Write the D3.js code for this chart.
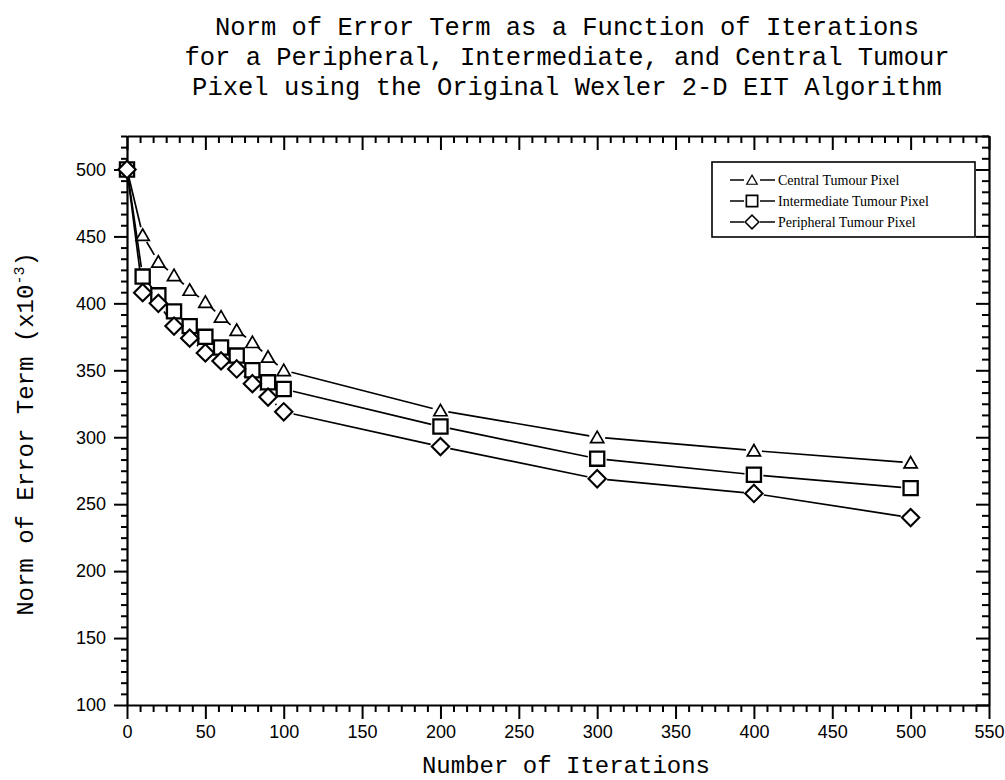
<!DOCTYPE html>
<html>
<head>
<meta charset="utf-8">
<script src="https://cdn.jsdelivr.net/npm/d3@7/dist/d3.min.js"></script>
<style>
  html, body { margin: 0; padding: 0; background: #fff; }
  svg { display: block; }
</style>
</head>
<body>
<svg id="chart" width="1005" height="780"></svg>
<script>
// ---- data ----
const iterations   = [0, 10, 20, 30, 40, 50, 60, 70, 80, 90, 100, 200, 300, 400, 500];
const central      = [500, 451, 431, 421, 410, 401, 390, 380, 371, 360, 350, 320, 300, 290, 281];
const intermediate = [500, 420, 406, 394, 383, 375, 367, 361, 350, 341, 336, 308, 284, 272, 262];
const peripheral   = [500, 408, 400, 383, 374, 363, 357, 351, 340, 330, 319, 293, 269, 258, 240];
const seriesNames  = ["Central Tumour Pixel", "Intermediate Tumour Pixel", "Peripheral Tumour Pixel"];
const xTicks = [0, 50, 100, 150, 200, 250, 300, 350, 400, 450, 500, 550];
const yTicks = [100, 150, 200, 250, 300, 350, 400, 450, 500];
const titleLines = [
  "Norm of Error Term as a Function of Iterations",
  "for a Peripheral, Intermediate, and Central Tumour",
  "Pixel using the Original Wexler 2-D EIT Algorithm"
];
const xLabel = "Number of Iterations";
const yLabel = "Norm of Error Term (x10";
const yLabelSup = "-3";

// ---- layout ----
const L = 127, R = 989, T = 136, B = 705;
const svg = d3.select("#chart");
const x = d3.scaleLinear().domain([0, 550]).range([L, R]);
const y = d3.scaleLinear().domain([100, 525]).range([B, T]);

const minor = (ticks, step, lo, hi) => {
  const out = [];
  for (let v = lo; v <= hi + 1e-9; v += step / 6) {
    if (!ticks.some(t => Math.abs(t - v) < 1e-6)) out.push(v);
  }
  return out;
};
const xMinor = minor(xTicks, 50, 0, 550);
const yMinor = minor(yTicks, 50, 100, 525);

const axisFont = "'Liberation Sans', Arial, sans-serif";
const monoFont = "'Liberation Mono', 'Courier New', monospace";

function styleAxis(g) {
  g.selectAll("path.domain").attr("stroke", "#000").attr("stroke-width", 2.2);
  g.selectAll(".tick line").attr("stroke", "#000").attr("stroke-width", 2);
}

// bottom
svg.append("g").attr("transform", `translate(0,${B})`)
  .call(d3.axisBottom(x).tickValues(xTicks).tickSizeInner(14).tickSizeOuter(0).tickPadding(6).tickFormat(d3.format("d")))
  .call(styleAxis)
  .call(g => g.selectAll("text").attr("font-family", axisFont).attr("font-size", 18).attr("fill", "#000"));
svg.append("g").attr("transform", `translate(0,${B})`)
  .call(d3.axisBottom(x).tickValues(xMinor).tickSize(7).tickFormat(""))
  .call(styleAxis).call(g => g.select("path.domain").remove());
// top
svg.append("g").attr("transform", `translate(0,${T})`)
  .call(d3.axisBottom(x).tickValues(xTicks).tickSizeInner(14).tickSizeOuter(0).tickFormat(""))
  .call(styleAxis);
svg.append("g").attr("transform", `translate(0,${T})`)
  .call(d3.axisBottom(x).tickValues(xMinor).tickSize(7).tickFormat(""))
  .call(styleAxis).call(g => g.select("path.domain").remove());
// left
svg.append("g").attr("transform", `translate(${L},0)`)
  .call(d3.axisLeft(y).tickValues(yTicks).tickSizeInner(13).tickSizeOuter(0).tickPadding(8).tickFormat(d3.format("d")))
  .call(styleAxis)
  .call(g => g.selectAll("text").attr("font-family", axisFont).attr("font-size", 18).attr("fill", "#000"));
svg.append("g").attr("transform", `translate(${L},0)`)
  .call(d3.axisLeft(y).tickValues(yMinor).tickSize(6).tickFormat(""))
  .call(styleAxis).call(g => g.select("path.domain").remove());
// right
svg.append("g").attr("transform", `translate(${R},0)`)
  .call(d3.axisLeft(y).tickValues(yTicks).tickSizeInner(13).tickSizeOuter(0).tickFormat(""))
  .call(styleAxis);
svg.append("g").attr("transform", `translate(${R},0)`)
  .call(d3.axisLeft(y).tickValues(yMinor).tickSize(7).tickFormat(""))
  .call(styleAxis).call(g => g.select("path.domain").remove());

// ---- title ----
const titleBase = [35, 65, 95];
svg.append("g").selectAll("text").data(titleLines).join("text")
  .attr("x", 567).attr("y", (d, i) => titleBase[i])
  .attr("text-anchor", "middle")
  .attr("font-family", monoFont).attr("font-size", 25.5).attr("fill", "#000")
  .text(d => d);

// axis labels
svg.append("text").attr("x", 566).attr("y", 773).attr("text-anchor", "middle")
  .attr("font-family", monoFont).attr("font-size", 24).attr("fill", "#000").text(xLabel);
const yl = svg.append("text").attr("transform", "translate(33,434) rotate(-90)")
  .attr("text-anchor", "middle")
  .attr("font-family", monoFont).attr("font-size", 24).attr("fill", "#000");
yl.append("tspan").text(yLabel);
yl.append("tspan").attr("dy", -9).attr("font-size", 15).text(yLabelSup);
yl.append("tspan").attr("dy", 9).text(")");

// ---- series ----
const symTri = d3.symbol().type(d3.symbolTriangle).size(75);
const symSq = d3.symbol().type(d3.symbolSquare).size(200);
const symDia = d3.symbol().type(d3.symbolSquare).size(150);
const series = [
  { name: seriesNames[0], values: central, path: symTri(), rot: 0, gap: 8, sw: 1.7, dy: 1.5 },
  { name: seriesNames[1], values: intermediate, path: symSq(), rot: 0, gap: 9.5, sw: 2.3, dy: 0 },
  { name: seriesNames[2], values: peripheral, path: symDia(), rot: 45, gap: 10, sw: 2.1, dy: 0 }
];

const gLines = svg.append("g");
const gMarks = svg.append("g");
series.forEach(s => {
  const pts = iterations.map((it, i) => [x(it), y(s.values[i])]);
  const segs = [];
  for (let i = 0; i < pts.length - 1; i++) {
    const [x0, y0] = pts[i], [x1, y1] = pts[i + 1];
    const len = Math.hypot(x1 - x0, y1 - y0);
    if (len <= 2 * s.gap) continue;
    const ux = (x1 - x0) / len, uy = (y1 - y0) / len;
    segs.push([[x0 + ux * s.gap, y0 + uy * s.gap], [x1 - ux * s.gap, y1 - uy * s.gap]]);
  }
  gLines.selectAll(null).data(segs).join("path")
    .attr("d", d => d3.line()(d))
    .attr("fill", "none").attr("stroke", "#000").attr("stroke-width", 1.7);
  gMarks.selectAll(null).data(pts).join("path")
    .attr("d", s.path)
    .attr("transform", d => `translate(${d[0]},${d[1] + s.dy}) rotate(${s.rot})`)
    .attr("fill", "#fff").attr("stroke", "#000").attr("stroke-width", s.sw);
});

// ---- legend ----
const lg = svg.append("g");
lg.append("rect").attr("x", 712).attr("y", 162).attr("width", 263).attr("height", 75)
  .attr("fill", "#fff").attr("stroke", "#000").attr("stroke-width", 1.6);
const legBase = [185, 206, 227];
series.forEach((s, i) => {
  const cy = legBase[i] - 5;
  lg.append("line").attr("x1", 730).attr("x2", 744).attr("y1", cy).attr("y2", cy)
    .attr("stroke", "#000").attr("stroke-width", 1.5);
  lg.append("line").attr("x1", 760).attr("x2", 775).attr("y1", cy).attr("y2", cy)
    .attr("stroke", "#000").attr("stroke-width", 1.5);
  lg.append("path").attr("d", s.path)
    .attr("transform", `translate(752,${cy + s.dy * 0.8}) rotate(${s.rot}) scale(0.8)`)
    .attr("fill", "#fff").attr("stroke", "#000").attr("stroke-width", s.sw * 0.9);
  lg.append("text").attr("x", 778).attr("y", legBase[i])
    .attr("font-family", "'Liberation Serif', 'Times New Roman', serif").attr("font-size", 14)
    .attr("fill", "#000").text(s.name);
});
</script>
</body>
</html>
